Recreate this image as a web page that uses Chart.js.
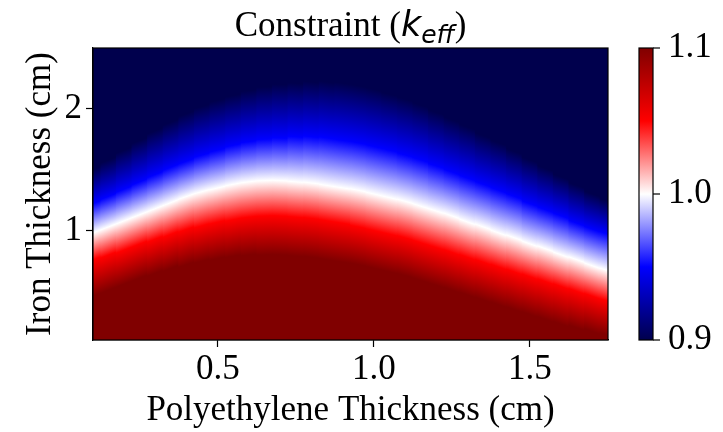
<!DOCTYPE html>
<html>
<head>
<meta charset="utf-8">
<script src="https://cdn.jsdelivr.net/npm/chart.js@4.4.1/dist/chart.umd.min.js"></script>
<style>
  html, body { margin: 0; padding: 0; background: #fff; }
  #wrap { width: 723px; height: 432px; }
</style>
</head>
<body>
<div id="wrap"><canvas id="mapa_keff"></canvas></div>
<script>
// polyethylene thickness (cm), one column of the map per value
const polietileno = [0.10, 0.15, 0.20, 0.25, 0.30, 0.35, 0.40, 0.45, 0.50, 0.55, 0.60, 0.65,
    0.70, 0.75, 0.80, 0.85, 0.90, 0.95, 1.00, 1.05, 1.10, 1.15, 1.20, 1.25, 1.30, 1.35,
    1.40, 1.45, 1.50, 1.55, 1.60, 1.65, 1.70, 1.75];

// iron thickness (cm) where k_eff reaches each level
const ferro_k110 = [0.46, 0.51, 0.56, 0.61, 0.65, 0.69, 0.72, 0.75, 0.77, 0.79, 0.80, 0.80,
    0.80, 0.79, 0.78, 0.76, 0.74, 0.72, 0.69, 0.66, 0.63, 0.59, 0.55, 0.51, 0.47, 0.43,
    0.39, 0.35, 0.31, 0.27, 0.23, 0.20, 0.17, 0.14];
const ferro_k105 = [0.76, 0.80, 0.84, 0.89, 0.93, 0.97, 1.01, 1.04, 1.07, 1.09, 1.11, 1.12,
    1.12, 1.11, 1.10, 1.08, 1.06, 1.03, 1.00, 0.97, 0.94, 0.90, 0.86, 0.82, 0.78, 0.74,
    0.70, 0.66, 0.62, 0.58, 0.54, 0.50, 0.46, 0.42];
const ferro_k100 = [0.98, 1.03, 1.08, 1.13, 1.18, 1.23, 1.28, 1.32, 1.35, 1.38, 1.40, 1.41,
    1.41, 1.40, 1.39, 1.37, 1.35, 1.33, 1.30, 1.27, 1.24, 1.20, 1.16, 1.12, 1.07, 1.03,
    0.98, 0.94, 0.89, 0.85, 0.80, 0.76, 0.71, 0.67];
const ferro_k095 = [1.22, 1.28, 1.34, 1.40, 1.46, 1.52, 1.57, 1.62, 1.66, 1.70, 1.73, 1.75,
    1.76, 1.77, 1.77, 1.76, 1.74, 1.72, 1.69, 1.66, 1.62, 1.58, 1.53, 1.48, 1.43, 1.38,
    1.33, 1.28, 1.22, 1.17, 1.12, 1.06, 1.01, 0.97];
const ferro_k090 = [1.50, 1.58, 1.66, 1.74, 1.82, 1.89, 1.96, 2.02, 2.07, 2.11, 2.15, 2.18,
    2.20, 2.21, 2.22, 2.22, 2.21, 2.19, 2.16, 2.12, 2.08, 2.03, 1.97, 1.91, 1.85, 1.78,
    1.72, 1.65, 1.58, 1.51, 1.44, 1.37, 1.30, 1.24];

const niveis_keff = [0.9, 0.95, 1.0, 1.05, 1.1];
const ticks_x = [0.5, 1.0, 1.5];
const ticks_y = [1, 2];
const ticks_barra = [0.9, 1.0, 1.1];
const ferro_min = 0.1, ferro_max = 2.5;
const poli_min = 0.1, poli_max = 1.75;

// seismic colormap, from k_eff 0.9 up to 1.1
const cores = ['#00004d', '#0000ff', '#ffffff', '#ff0000', '#800000'];
const fonte = '"Liberation Serif", "Times New Roman", serif';
const tam = 35;

// vertical gradient of one column, tilted so the colour bands follow the slope of the k=1 line
function gradiente_coluna(context) {
    const chart = context.chart;
    const i = context.dataIndex;
    if (!chart.chartArea || i === undefined) return '#800000';
    const sx = chart.scales.x, sy = chart.scales.y;
    const n = polietileno.length;
    const a = Math.max(0, i - 1), b = Math.min(n - 1, i + 1);
    const s = (sy.getPixelForValue(ferro_k100[b]) - sy.getPixelForValue(ferro_k100[a])) /
              (sx.getPixelForValue(polietileno[b]) - sx.getPixelForValue(polietileno[a]));
    const px = sx.getPixelForValue(polietileno[i]);
    const H = chart.height;
    const L2 = 1 + s * s;
    const g = chart.ctx.createLinearGradient(px, 0, px - s * H / L2, H / L2);
    const alturas = [ferro_k090[i], ferro_k095[i], ferro_k100[i], ferro_k105[i], ferro_k110[i]];
    let ultimo = 0;
    alturas.forEach(function(h, k) {
        let pos = sy.getPixelForValue(h) / H;
        pos = Math.min(1, Math.max(ultimo, pos));
        g.addColorStop(pos, cores[k]);
        ultimo = pos;
    });
    return g;
}

// frame, title and colorbar
const extras = {
    id: 'extras',
    afterDatasetsDraw(chart) {
        const {ctx, chartArea: a} = chart;
        ctx.save();
        ctx.strokeStyle = '#000';
        ctx.lineWidth = 1.2;
        ctx.strokeRect(a.left, a.top, a.right - a.left, a.bottom - a.top);
        ctx.restore();
    },
    afterDraw(chart) {
        const {ctx, chartArea: a} = chart;
        ctx.save();
        ctx.fillStyle = '#000';
        ctx.textBaseline = 'alphabetic';

        // title: Constraint (k_eff)
        const partes = [
            {t: 'Constraint (', f: tam + 'px ' + fonte, dy: 0},
            {t: 'k', f: 'italic ' + tam + 'px "DejaVu Sans"', dy: 0},
            {t: 'eff', f: 'italic ' + Math.round(tam * 0.7) + 'px "DejaVu Sans"', dy: 7},
            {t: ')', f: tam + 'px ' + fonte, dy: 0}
        ];
        let total = 0;
        partes.forEach(function(p) { ctx.font = p.f; p.w = ctx.measureText(p.t).width; total += p.w; });
        let x = (a.left + a.right) / 2 - total / 2;
        partes.forEach(function(p) { ctx.font = p.f; ctx.fillText(p.t, x, 36 + p.dy); x += p.w; });

        // colorbar
        const cx0 = 639, cx1 = 653;
        const g = ctx.createLinearGradient(0, a.bottom, 0, a.top);
        cores.forEach(function(c, k) { g.addColorStop(k / (cores.length - 1), c); });
        ctx.fillStyle = g;
        ctx.fillRect(cx0, a.top, cx1 - cx0, a.bottom - a.top);
        ctx.strokeStyle = '#000';
        ctx.lineWidth = 1.2;
        ctx.strokeRect(cx0, a.top, cx1 - cx0, a.bottom - a.top);
        ctx.fillStyle = '#000';
        ctx.font = tam + 'px ' + fonte;
        ctx.textBaseline = 'middle';
        ctx.textAlign = 'left';
        const vmin = niveis_keff[0], vmax = niveis_keff[niveis_keff.length - 1];
        ticks_barra.forEach(function(v) {
            const py = a.bottom - (v - vmin) / (vmax - vmin) * (a.bottom - a.top);
            ctx.beginPath();
            ctx.moveTo(cx1, py);
            ctx.lineTo(cx1 + 7, py);
            ctx.stroke();
            ctx.fillText(v.toFixed(1), cx1 + 15, py);
        });
        ctx.restore();
    }
};

const ctx = document.getElementById('mapa_keff').getContext('2d');
const myChart = new Chart(ctx, {
    type: 'bar',
    data: {
        datasets: [{
            label: 'k_eff',
            data: polietileno.map(function(p) { return {x: p, y: [ferro_min, ferro_max]}; }),
            backgroundColor: gradiente_coluna,
            borderWidth: 0,
            inflateAmount: 0,
            grouped: false,
            barPercentage: 1.06,
            categoryPercentage: 1
        }]
    },
    options: {
        responsive: true,
        maintainAspectRatio: false,
        animation: false,
        layout: { padding: { top: 48, right: 115, left: 0, bottom: 0 } },
        plugins: {
            legend: { display: false },
            tooltip: { enabled: false },
            title: { display: false }
        },
        scales: {
            x: {
                type: 'linear',
                min: poli_min,
                max: poli_max,
                offset: false,
                afterBuildTicks: function(s) { s.ticks = ticks_x.map(function(v) { return {value: v}; }); },
                afterFit: function(s) { s.height = 92; },
                grid: { offset: false, drawOnChartArea: false, drawTicks: true, tickLength: 7, tickWidth: 1.2, tickColor: '#000' },
                border: { display: true, color: '#000', width: 1.2 },
                ticks: {
                    color: '#000', padding: 2, maxRotation: 0,
                    font: { family: fonte, size: tam },
                    callback: function(v) { return Number(v).toFixed(1); }
                },
                title: {
                    display: true, text: 'Polyethylene Thickness (cm)', color: '#000',
                    font: { family: fonte, size: tam }, padding: { top: 0, bottom: 0 }
                }
            },
            y: {
                type: 'linear',
                min: ferro_min,
                max: ferro_max,
                afterBuildTicks: function(s) { s.ticks = ticks_y.map(function(v) { return {value: v}; }); },
                afterFit: function(s) { s.width = 93; },
                grid: { drawOnChartArea: false, drawTicks: true, tickLength: 7, tickWidth: 1.2, tickColor: '#000' },
                border: { display: true, color: '#000', width: 1.2 },
                ticks: {
                    color: '#000', padding: 4,
                    font: { family: fonte, size: tam },
                    callback: function(v) { return String(v); }
                },
                title: {
                    display: true, text: 'Iron Thickness (cm)', color: '#000',
                    font: { family: fonte, size: tam }, padding: { top: 20, bottom: 0 }
                }
            }
        }
    },
    plugins: [extras]
});
</script>
</body>
</html>
